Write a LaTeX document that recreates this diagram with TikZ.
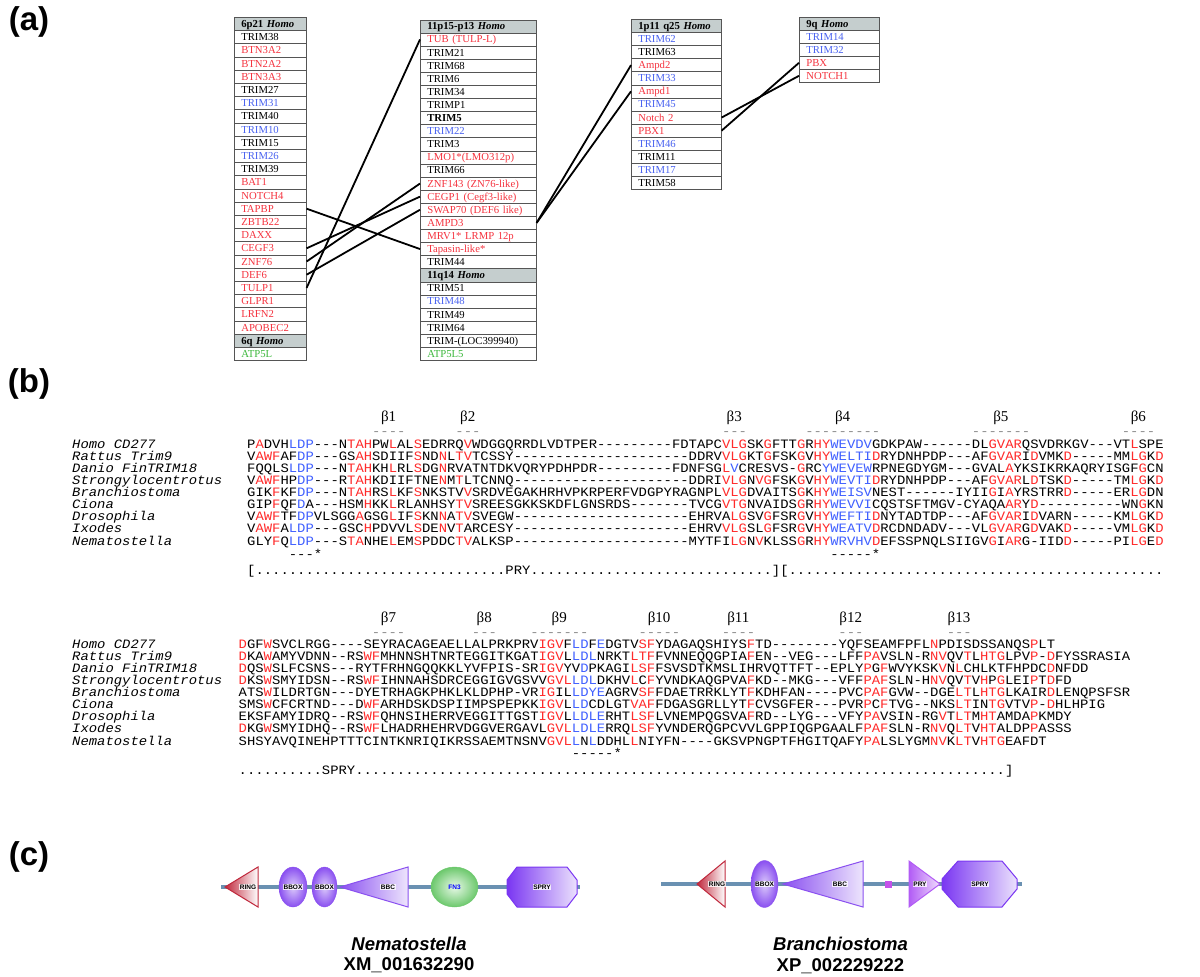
\documentclass[tikz,border=0pt]{standalone}
\usepackage{fontspec}
\setmainfont{Liberation Serif}
\setsansfont{Liberation Sans}
\newfontfamily\seqfont{Liberation Mono}[FakeStretch=1.0846]

\definecolor{genered}{HTML}{F5333F}
\definecolor{geneblue}{HTML}{4A63F0}
\definecolor{genegreen}{HTML}{3DB83D}
\definecolor{hdrfill}{HTML}{C5CECE}
\definecolor{cellline}{HTML}{555555}
\definecolor{seqred}{HTML}{FF2B2B}
\definecolor{seqblue}{HTML}{4060FF}
\definecolor{betadash}{HTML}{8C8C8C}
\definecolor{backbone}{HTML}{6A91B2}
\definecolor{ringred}{HTML}{C0283C}
\definecolor{domviolet}{HTML}{8A50F0}
\definecolor{sprydark}{HTML}{7A36F2}
\definecolor{pryviolet}{HTML}{B25CF5}
\definecolor{fngreen}{HTML}{6CC86C}
\definecolor{fnlight}{HTML}{E6F8E6}
\definecolor{sqmagenta}{HTML}{C552EA}

\newcommand{\Rd}[1]{\textcolor{seqred}{#1}}
\newcommand{\Bl}[1]{\textcolor{seqblue}{#1}}
\newcommand{\tendots}{..........}

\tikzset{
  cell/.style={draw=cellline, line width=0.6pt, anchor=north west, inner xsep=7pt, inner ysep=0pt,
    align=left, text height=8.4pt, text depth=1.4pt, font=\fontsize{10.7}{12}\selectfont},
  hd/.style={fill=hdrfill, font=\fontsize{10.7}{12}\selectfont\bfseries},
  gk/.style={text=black},
  gr/.style={text=genered},
  gb/.style={text=geneblue},
  gg/.style={text=genegreen},
  tab6/.style={text width=58pt, minimum height=13.2pt},
  tab11/.style={text width=102pt, minimum height=13.1pt},
  tab1/.style={text width=76pt, minimum height=13.1pt},
  tab9/.style={text width=66pt, minimum height=13pt},
  tablink/.style={line width=1.8pt, black},
  seq/.style={anchor=base west, inner sep=0pt, font=\seqfont\fontsize{12.8}{13}\selectfont},
  species/.style={seq, font=\seqfont\itshape\fontsize{12.8}{13}\selectfont},
  beta/.style={anchor=base, inner sep=0pt, font=\fontsize{15}{16}\selectfont},
  panel/.style={inner sep=0pt, font=\sffamily\bfseries\fontsize{33}{36}\selectfont},
  bone/.style={line width=4.5pt, backbone},
  dlabel/.style={inner sep=0.6pt, fill=white, fill opacity=0.8, text opacity=1,
    font=\sffamily\bfseries\fontsize{6.5}{7}\selectfont},
  cname/.style={inner sep=0pt, font=\sffamily\bfseries\fontsize{18.5}{20}\selectfont}
}

\begin{document}
\begin{tikzpicture}[x=1pt, y=-1pt]
\fill[white] (0,0) rectangle (1200,977);
\useasboundingbox (0,0) rectangle (1200,977);

% panel letters
\node[panel] (pa) at (29,22) {(a)};
\node[panel] (pb) at (29,384) {(b)};
\node[panel] (pc) at (29,857) {(c)};

% (a) chromosome tables
\foreach \txt/\sty [count=\i from 0] in {{6p21 \textit{Homo}}/hd, TRIM38/gk, BTN3A2/gr, BTN2A2/gr, BTN3A3/gr,
    TRIM27/gk, TRIM31/gb, TRIM40/gk, TRIM10/gb, TRIM15/gk, TRIM26/gb, TRIM39/gk, BAT1/gr, NOTCH4/gr,
    TAPBP/gr, ZBTB22/gr, DAXX/gr, CEGF3/gr, ZNF76/gr, DEF6/gr, TULP1/gr, GLPR1/gr, LRFN2/gr,
    APOBEC2/gr, {6q \textit{Homo}}/hd, ATP5L/gg}
  \node[cell, tab6, \sty] (hs6-\i) at (234, {17+13.2*\i}) {\txt};

\foreach \txt/\sty [count=\i from 0] in {{11p15-p13 \textit{Homo}}/hd, TUB (TULP-L)/gr, TRIM21/gk, TRIM68/gk,
    TRIM6/gk, TRIM34/gk, TRIMP1/gk, {\textbf{TRIM5}}/gk, TRIM22/gb, TRIM3/gk, LMO1*(LMO312p)/gr, TRIM66/gk,
    ZNF143 (ZN76-like)/gr, CEGP1 (Cegf3-like)/gr, SWAP70 (DEF6 like)/gr, AMPD3/gr, MRV1* LRMP 12p/gr,
    Tapasin-like*/gr, TRIM44/gk, {11q14 \textit{Homo}}/hd, TRIM51/gk, TRIM48/gb, TRIM49/gk, TRIM64/gk,
    TRIM-(LOC399940)/gk, ATP5L5/gg}
  \node[cell, tab11, \sty] (hs11-\i) at (420, {19.5+13.1*\i}) {\txt};

\foreach \txt/\sty [count=\i from 0] in {{1p11 q25 \textit{Homo}}/hd, TRIM62/gb, TRIM63/gk, Ampd2/gr,
    TRIM33/gb, Ampd1/gr, TRIM45/gb, Notch 2/gr, PBX1/gr, TRIM46/gb, TRIM11/gk, TRIM17/gb, TRIM58/gk}
  \node[cell, tab1, \sty] (hs1-\i) at (631, {19+13.1*\i}) {\txt};

\foreach \txt/\sty [count=\i from 0] in {{9q \textit{Homo}}/hd, TRIM14/gb, TRIM32/gb, PBX/gr, NOTCH1/gr}
  \node[cell, tab9, \sty] (hs9-\i) at (799, {17+13*\i}) {\txt};

% paralogous links
\draw[tablink] (hs6-14.east) -- (hs11-17.west);
\draw[tablink] (hs6-17.east) -- (hs11-13.west);
\draw[tablink] (hs6-18.east) -- (hs11-12.west);
\draw[tablink] (hs6-19.east) -- (hs11-14.west);
\draw[tablink] (hs6-20.east) -- (hs11-1.west);
\draw[tablink] (hs11-15.east) -- (hs1-3.west);
\draw[tablink] (hs11-15.east) -- (hs1-5.west);
\draw[tablink] (hs1-7.east) -- (hs9-4.west);
\draw[tablink] (hs1-8.east) -- (hs9-3.west);

% (b) alignment, first block
\foreach \lab/\col/\nd/\dsh in {1/15/4/----, 2/25/3/---, 3/57/3/---, 4/67/9/---------, 5/87/7/-------, 6/105/4/----} {
  \node[seq, text=betadash] (bd\lab) at ({247+8.33*\col}, 435) {\dsh};
  \node[beta] (b\lab) at ({247+8.33*(\col+\nd/2)}, 421) {β\lab};
}
\foreach \spc/\sqn [count=\i from 0] in {
  {Homo CD277}/{P\Rd{A}DVH\Bl{LDP}---N\Rd{TAH}PW\Rd{L}AL\Rd{S}EDRRQ\Rd{V}WDGGQRRDLVDTPER---------FDTAPC\Rd{VLG}SK\Rd{G}FTT\Rd{G}R\Rd{HY}\Bl{WEVDV}GDKPAW------DL\Rd{GVAR}QSVDRKGV---VT\Rd{L}SPE},
  {Rattus Trim9}/{V\Rd{AWF}AF\Bl{DP}---GS\Rd{AH}SDIIF\Rd{S}ND\Rd{N}L\Rd{TV}TCSSY---------------------DDRV\Rd{VLG}KT\Rd{G}FSK\Rd{G}V\Rd{HY}\Bl{WELTI}\Rd{D}RYDNHPDP---AF\Rd{GVAR}I\Rd{D}VMK\Rd{D}-----MM\Rd{LG}K\Rd{D}},
  {Danio FinTRIM18}/{FQQLS\Bl{LDP}---N\Rd{TAH}KH\Rd{L}RL\Rd{S}DG\Rd{N}RVATNTDKVQRYPDHPDR---------FDNFSG\Rd{L}\Bl{V}CRESVS-\Rd{G}RC\Bl{YWEVEW}RPNEGDYGM---GVAL\Rd{A}YKSIKRKAQRYISGF\Rd{G}CN},
  {Strongylocentrotus}/{V\Rd{AWF}HP\Bl{DP}---R\Rd{TAH}KDIIFTNE\Rd{N}M\Rd{T}LTCNNQ---------------------DDRI\Rd{VLG}N\Rd{VG}FSK\Rd{G}V\Rd{HY}\Bl{WEVTI}\Rd{D}RYDNHPDP---AF\Rd{GVAR}L\Rd{D}TSK\Rd{D}-----TM\Rd{LG}K\Rd{D}},
  {Branchiostoma}/{GIK\Rd{F}KF\Bl{DP}---N\Rd{TAH}RS\Rd{L}KF\Rd{S}NKSTV\Rd{V}SRDVEGAKHRHVPKRPERFVDGPYRAGNPL\Rd{VLG}DVAITS\Rd{G}K\Rd{HY}\Bl{WEISV}NEST------IYII\Rd{G}I\Rd{A}YRSTRR\Rd{D}-----ER\Rd{LG}DN},
  {Ciona}/{GIP\Rd{F}QF\Bl{D}A---HSM\Rd{H}KK\Rd{L}RLANHSY\Rd{TV}SREESGKKSKDFLGNSRDS-------TVCG\Rd{VTG}NVAIDS\Rd{G}R\Rd{HY}\Bl{WEVVI}CQSTSFTMGV-CYAQA\Rd{AR}Y\Rd{D}----------WN\Rd{G}KN},
  {Drosophila}/{V\Rd{AWF}TF\Bl{DP}VLSGG\Rd{A}GSG\Rd{L}IF\Rd{S}KN\Rd{N}A\Rd{TV}SVEGW---------------------EHRVA\Rd{LG}SV\Rd{G}FSR\Rd{G}V\Rd{HY}\Bl{WEFTI}\Rd{D}NYTADTDP---AF\Rd{GVAR}I\Rd{D}VARN-----KM\Rd{LG}K\Rd{D}},
  {Ixodes}/{V\Rd{AWF}A\Bl{LDP}---GSC\Rd{H}PDVVL\Rd{S}DE\Rd{N}V\Rd{T}ARCESY---------------------EHRV\Rd{VLG}SL\Rd{G}FSR\Rd{G}V\Rd{HY}\Bl{WEATV}\Rd{D}RCDNDADV---VL\Rd{GVAR}G\Rd{D}VAK\Rd{D}-----VM\Rd{LG}K\Rd{D}},
  {Nematostella}/{GLY\Rd{F}Q\Bl{LDP}---S\Rd{TA}NHE\Rd{L}EM\Rd{S}PDDC\Rd{TV}ALKSP---------------------MYTFI\Rd{LG}N\Rd{V}KLSS\Rd{G}R\Rd{HY}\Bl{WRVHV}\Rd{D}EFSSPNQLSIIGV\Rd{G}I\Rd{AR}G-IID\Rd{D}-----PI\Rd{LG}E\Rd{D}}} {
  \node[species] (spa-\i) at (72, {448.2+12.1*\i}) {\spc};
  \node[seq] (sqa-\i) at (247, {448.2+12.1*\i}) {\sqn};
}
\node[seq] (sta1) at ({247+8.33*5}, 558) {---*};
\node[seq] (sta2) at ({247+8.33*70}, 558) {-----*};
\node[seq] (doma) at (247, 574.5) {[\tendots\tendots\tendots PRY\tendots\tendots.........][\tendots\tendots\tendots\tendots.....};

% (b) alignment, second block
\foreach \lab/\col/\nd/\dsh in {7/16/4/----, 8/28/3/---, 9/35/7/-------, 10/48/5/-----, 11/58/4/----, 12/72/3/---, 13/85/3/---} {
  \node[seq, text=betadash] (bd\lab) at ({238.5+8.33*\col}, 636) {\dsh};
  \node[beta] (b\lab) at ({238.5+8.33*(\col+\nd/2)}, 622) {β\lab};
}
\foreach \spc/\sqn [count=\i from 0] in {
  {Homo CD277}/{\Rd{D}GF\Rd{W}SVCLRGG----SEYRACAGEAELLALPRKPRV\Rd{IGV}F\Bl{LD}F\Bl{E}DGTV\Rd{SF}YDAGAQSHIYS\Rd{F}TD--------YQFSEAMFPFL\Rd{N}PDISDSSANQS\Rd{P}LT},
  {Rattus Trim9}/{\Rd{D}KA\Rd{W}AMYVDNN--RS\Rd{WF}MHNNSHTNRTEGGITKGAT\Rd{IGV}L\Bl{LDL}NRKT\Rd{LTF}FVNNEQQGPIA\Rd{F}EN--VEG---LFF\Rd{PA}VSLN-R\Rd{NV}QV\Rd{T}L\Rd{HTG}LPV\Rd{P}-\Rd{D}FYSSRASIA},
  {Danio FinTRIM18}/{\Rd{D}QS\Rd{W}SLFCSNS---RYTFRHNGQQKKLYVFPIS-SR\Rd{IGV}YV\Bl{D}PKAGI\Rd{LSF}FSVSDTKMSLIHRVQTTFT--EPLY\Rd{P}G\Rd{F}WVYKSK\Rd{V}N\Rd{L}CHLKTFHPDC\Rd{D}NFDD},
  {Strongylocentrotus}/{\Rd{D}KS\Rd{W}SMYIDSN--RS\Rd{WF}IHNNAHSDRCEGGIGVGSVV\Rd{GVL}\Bl{LDL}DKHV\Rd{L}C\Rd{F}YVNDKAQGPVA\Rd{F}KD--MKG---VFF\Rd{PAF}SLN-H\Rd{NV}QV\Rd{T}V\Rd{H}P\Rd{G}LEI\Rd{P}T\Rd{D}FD},
  {Branchiostoma}/{ATS\Rd{W}ILDRTGN---DYETRHAGKPHKLKLDPHP-VR\Rd{IG}IL\Bl{LDYE}AGRV\Rd{SF}FDAETRRKLYT\Rd{F}KDHFAN----PVC\Rd{PAF}GVW--DGE\Rd{LT}L\Rd{HTG}LKAIR\Rd{D}LENQPSFSR},
  {Ciona}/{SMS\Rd{W}CFCRTND---D\Rd{WF}ARHDSKDSPIIMPSPEPKK\Rd{IGV}L\Bl{LD}CDLGT\Rd{VAF}FDGASGRLLYT\Rd{F}CVSGFER---PVR\Rd{P}C\Rd{F}TVG--NKS\Rd{LT}IN\Rd{TG}VTV\Rd{P}-\Rd{D}HLHPIG},
  {Drosophila}/{EKSFAMYIDRQ--RS\Rd{WF}QHNSIHERRVEGGITTGST\Rd{IGV}L\Bl{LDLE}RHT\Rd{LSF}LVNEMPQGSVA\Rd{F}RD--LYG---VFY\Rd{PA}VSIN-RG\Rd{V}T\Rd{LT}M\Rd{HT}AMDA\Rd{P}KMDY},
  {Ixodes}/{\Rd{D}KG\Rd{W}SMYIDHQ--RS\Rd{WF}LHADRHEHRVDGGVERGAVL\Rd{GVL}\Bl{LDLE}RRQ\Rd{LSF}YVNDERQGPCVVLGPPIQGPGAALF\Rd{PAF}SLN-R\Rd{NV}Q\Rd{LT}V\Rd{HT}ALDP\Rd{P}ASSS},
  {Nematostella}/{SHSYAVQINEHPTTTCINTKNRIQIKRSSAEMTNSNV\Rd{GVL}\Bl{L}N\Bl{L}DDHL\Rd{L}NIYFN----GKSVPNGPTFHGITQAFY\Rd{PA}LSLYGM\Rd{NV}K\Rd{LT}V\Rd{HTG}EAFDT}} {
  \node[species] (spb-\i) at (72, {648.2+12.1*\i}) {\spc};
  \node[seq] (sqb-\i) at (238.5, {648.2+12.1*\i}) {\sqn};
}
\node[seq] (stb) at ({238.5+8.33*40}, 757) {-----*};
\node[seq] (domb) at (238.5, 774) {\tendots SPRY\tendots\tendots\tendots\tendots\tendots\tendots\tendots........]};

% (c) domain architectures
\draw[bone] (221,887) -- (580,887);
\shade[left color=ringred, right color=white, draw=ringred, line width=1pt] (225,887) -- (258,867) -- (258,907) -- cycle;
\shade[inner color=white!70!domviolet, outer color=domviolet, draw=domviolet] (293,887) ellipse [x radius=14pt, y radius=20pt];
\shade[inner color=white!70!domviolet, outer color=domviolet, draw=domviolet] (324.5,887) ellipse [x radius=12.5pt, y radius=20pt];
\shade[left color=domviolet, right color=white!85!domviolet, draw=domviolet, line width=1pt] (340,887) -- (408,867) -- (408,907) -- cycle;
\shade[inner color=fnlight, outer color=fngreen, draw=fngreen] (454.5,887) ellipse [x radius=23.5pt, y radius=20pt];
\shade[left color=sprydark, right color=white!85!sprydark, draw=sprydark, line width=1pt] (507,880) -- (517,867) -- (567,867) -- (577,880) -- (577,894) -- (567,907) -- (517,907) -- (507,894) -- cycle;
\node[dlabel] (ring1) at (248,887) {RING};
\node[dlabel] (bbox1) at (293,887) {BBOX};
\node[dlabel] (bbox2) at (324.5,887) {BBOX};
\node[dlabel] (bbc1) at (388,887) {BBC};
\node[dlabel, text=blue, fill opacity=0] (fn3) at (454.5,887) {FN3};
\node[dlabel] (spry1) at (542,887) {SPRY};

\draw[bone] (661,884) -- (1022,884);
\shade[left color=ringred, right color=white, draw=ringred, line width=1pt] (697,884) -- (725,861) -- (725,907) -- cycle;
\shade[inner color=white!70!domviolet, outer color=domviolet, draw=domviolet] (764.5,884) ellipse [x radius=13.5pt, y radius=23.5pt];
\shade[left color=domviolet, right color=white!85!domviolet, draw=domviolet, line width=1pt] (783,884) -- (863,861) -- (863,907) -- cycle;
\fill[sqmagenta] (884.5,880.5) rectangle (891.5,887.5);
\shade[left color=pryviolet, right color=white!80!pryviolet, draw=pryviolet, line width=1pt] (909,861) -- (940,884) -- (909,907) -- cycle;
\shade[left color=sprydark, right color=white!85!sprydark, draw=sprydark, line width=1pt] (942,879) -- (958,861) -- (1002,861) -- (1017,879) -- (1017,889) -- (1002,907) -- (958,907) -- (942,889) -- cycle;
\node[dlabel] (ring2) at (717,884) {RING};
\node[dlabel] (bbox3) at (764.5,884) {BBOX};
\node[dlabel] (bbc2) at (840,884) {BBC};
\node[dlabel] (pry2) at (920,884) {PRY};
\node[dlabel] (spry2) at (980,884) {SPRY};

\node[cname] (nem) at (409,944) {\textit{Nematostella}};
\node[cname] (nemid) at (409,965) {XM\_001632290};
\node[cname] (bra) at (840.5,944) {\textit{Branchiostoma}};
\node[cname] (braid) at (840.5,966) {XP\_002229222};
\end{tikzpicture}
\end{document}
